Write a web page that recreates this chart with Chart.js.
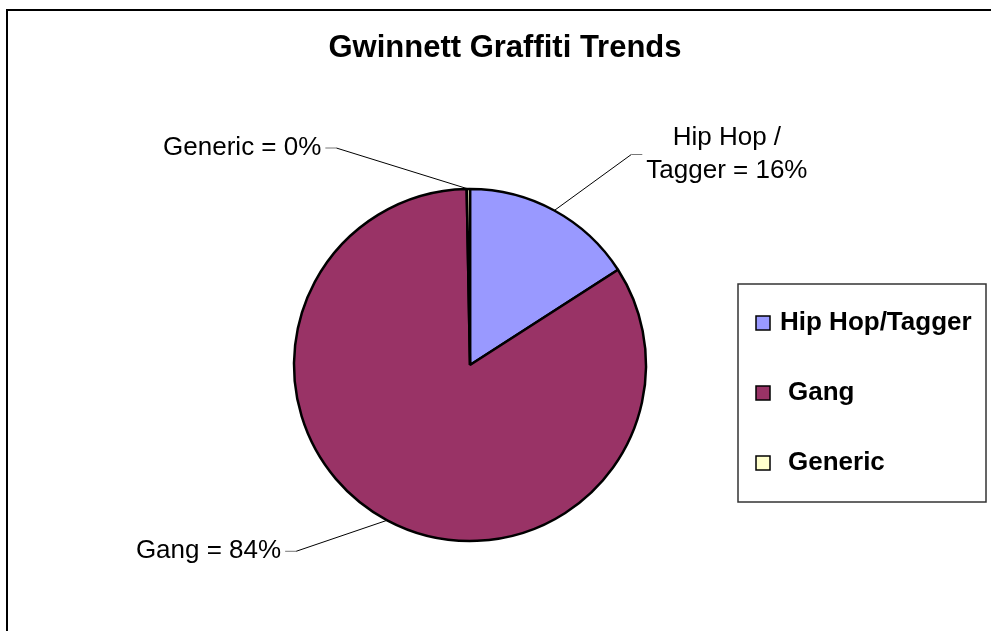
<!DOCTYPE html>
<html>
<head>
<meta charset="utf-8">
<script src="https://cdn.jsdelivr.net/npm/chart.js@4.4.0/dist/chart.umd.min.js"></script>
<style>
  html, body { margin: 0; padding: 0; background: #fff; }
  #wrap { width: 991px; height: 631px; }
</style>
</head>
<body>
<div id="wrap"><canvas id="pie" width="991" height="631"></canvas></div>
<script>
const chartTitle = 'Gwinnett Graffiti Trends'
const categories = ['Hip Hop/Tagger', 'Gang', 'Generic']
const sliceNames = ['Hip Hop /\nTagger', 'Gang', 'Generic']
const shares = [15.9, 83.8, 0.3]
const colors = ['#9999FF', '#993366', '#FFFFCC']

const FONT = '"Liberation Sans", Arial, sans-serif'

// where each callout sits relative to the edge of its slice
const callouts = [
  { dx: 77, dy: -56, side: 1 },
  { dx: -91, dy: 31, side: -1 },
  { dx: -132, dy: -41, side: -1 }
]

const frame = {
  id: 'frame',
  beforeDraw(chart){
    const ctx = chart.ctx
    ctx.save()
    ctx.fillStyle = '#fff'
    ctx.fillRect(0, 0, chart.width, chart.height)
    ctx.strokeStyle = '#000'
    ctx.lineWidth = 2
    ctx.strokeRect(7, 10, chart.width + 50, chart.height + 50)
    ctx.fillStyle = '#000'
    ctx.font = 'bold 31px ' + FONT
    ctx.textAlign = 'center'
    ctx.textBaseline = 'alphabetic'
    ctx.fillText(chartTitle, 505, 57)
    ctx.restore()
  }
}

const sliceCallouts = {
  id: 'sliceCallouts',
  afterDatasetsDraw(chart){
    const ctx = chart.ctx
    const ds = chart.data.datasets[0]
    const total = ds.data.reduce((a, b) => a + b, 0)
    const meta = chart.getDatasetMeta(0)
    ctx.save()
    ctx.font = '26px ' + FONT
    ctx.textBaseline = 'middle'
    meta.data.forEach((arc, i) => {
      const {x, y, startAngle, endAngle, outerRadius} = arc.getProps(['x', 'y', 'startAngle', 'endAngle', 'outerRadius'], true)
      const mid = (startAngle + endAngle) / 2
      const ex = x + Math.cos(mid) * outerRadius
      const ey = y + Math.sin(mid) * outerRadius
      const c = callouts[i]
      const bx = ex + c.dx, by = ey + c.dy
      ctx.strokeStyle = '#000'
      ctx.lineWidth = 1
      ctx.beginPath()
      ctx.moveTo(ex, ey)
      ctx.lineTo(bx, by)
      ctx.stroke()
      ctx.strokeStyle = '#777'
      ctx.beginPath()
      ctx.moveTo(bx, by)
      ctx.lineTo(bx + c.side * 11, by)
      ctx.stroke()

      const pct = Math.round(ds.data[i] / total * 100)
      const lines = (sliceNames[i] + ' = ' + pct + '%').split('\n')
      const w = Math.max(...lines.map(t => ctx.measureText(t).width))
      const left = c.side > 0 ? bx + 15 : bx - 15 - w
      const lh = 33
      ctx.fillStyle = '#000'
      ctx.textAlign = 'center'
      lines.forEach((t, k) => {
        ctx.fillText(t, left + w / 2, by + (k - (lines.length - 1) / 2) * lh)
      })
    })
    ctx.restore()
  }
}

const boxLegend = {
  id: 'boxLegend',
  afterDraw(chart){
    const ctx = chart.ctx
    const ds = chart.data.datasets[0]
    ctx.save()
    ctx.strokeStyle = '#333'
    ctx.lineWidth = 1.5
    ctx.strokeRect(738, 284, 248, 218)
    ctx.font = 'bold 26px ' + FONT
    ctx.textBaseline = 'middle'
    ctx.textAlign = 'left'
    chart.data.labels.forEach((name, i) => {
      const cy = 323 + i * 70
      ctx.fillStyle = ds.backgroundColor[i]
      ctx.fillRect(756, cy - 7, 14, 14)
      ctx.strokeStyle = '#000'
      ctx.lineWidth = 1.5
      ctx.strokeRect(756, cy - 7, 14, 14)
      ctx.fillStyle = '#000'
      ctx.fillText(name, i === 0 ? 780 : 788, cy)
    })
    ctx.restore()
  }
}

new Chart(document.getElementById('pie'), {
  type: 'pie',
  data: {
    labels: categories,
    datasets: [{
      data: shares,
      backgroundColor: colors,
      borderColor: '#000',
      borderWidth: 2.5
    }]
  },
  options: {
    responsive: false,
    animation: false,
    radius: 176,
    layout: { padding: { left: 200, right: 251, top: 150, bottom: 51 } },
    plugins: {
      legend: { display: false },
      title: { display: false },
      tooltip: { enabled: false }
    }
  },
  plugins: [frame, sliceCallouts, boxLegend]
})
</script>
</body>
</html>
